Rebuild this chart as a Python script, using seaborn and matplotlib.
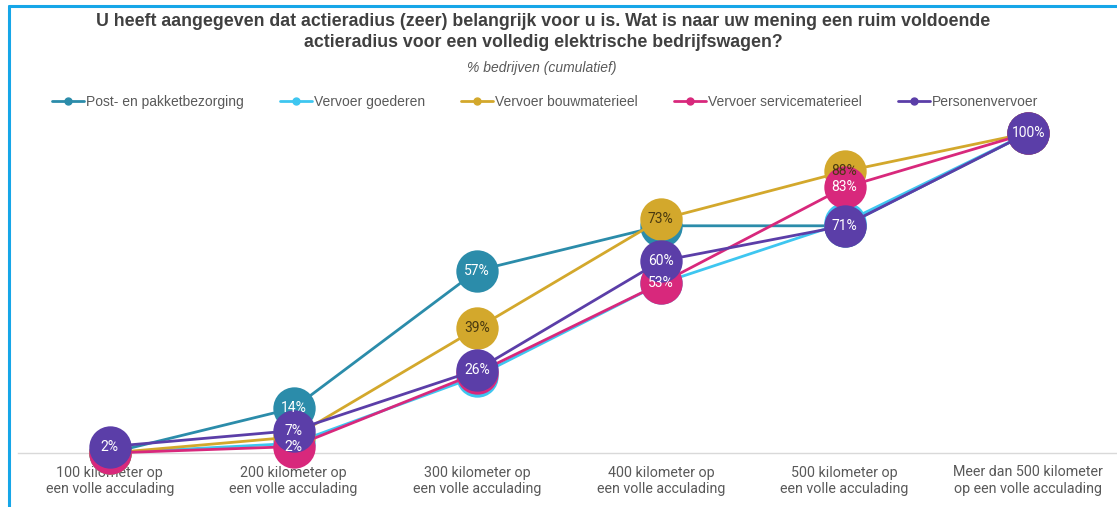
import matplotlib
matplotlib.use("Agg")
import matplotlib.pyplot as plt
import seaborn as sns
import pandas as pd
from matplotlib.lines import Line2D

categories = [
    "100 kilometer op\neen volle acculading",
    "200 kilometer op\neen volle acculading",
    "300 kilometer op\neen volle acculading",
    "400 kilometer op\neen volle acculading",
    "500 kilometer op\neen volle acculading",
    "Meer dan 500 kilometer\nop een volle acculading",
]
series_names = ["Post- en pakketbezorging", "Vervoer goederen", "Vervoer bouwmaterieel",
                "Vervoer servicematerieel", "Personenvervoer"]
post = [0, 14, 57, 71, 71, 100]
goederen = [0, 3, 24, 53, 72, 100]
bouw = [0, 5, 39, 73, 88, 100]
service = [0, 2, 25, 53, 83, 100]
personen = [2, 7, 26, 60, 71, 100]
values = [post, goederen, bouw, service, personen]
# which data labels are visible in the reference
shown = [
    [False, True, True, False, False, False],
    [False, False, False, False, False, False],
    [False, False, True, True, True, False],
    [False, True, False, True, True, False],
    [True, True, True, True, True, True],
]
colors = ["#2B8CAA", "#3EC6F0", "#D3A82C", "#D8287C", "#5B3EA8"]
label_colors = ["white", "white", "#4a3a10", "white", "white"]

rows = []
for name, vals in zip(series_names, values):
    for i, v in enumerate(vals):
        rows.append({"serie": name, "x": i, "pct": v})
df = pd.DataFrame(rows)

sns.set_theme(style="white")
plt.rcParams["font.family"] = ["Roboto", "DejaVu Sans"]

W, H = 1117, 507
fig = plt.figure(figsize=(W / 100, H / 100), dpi=100)
ax = fig.add_axes([18 / W, (H - 453) / H, 1102 / W, 320 / H])

sns.lineplot(data=df, x="x", y="pct", hue="serie", hue_order=series_names,
             palette=colors, marker="o", markersize=30.5, markeredgewidth=0,
             linewidth=2.0, ax=ax, legend=False, sort=False)
for ln in ax.lines:
    ln.set_clip_on(False)

for s, (vals, msk) in enumerate(zip(values, shown)):
    for i, (v, m) in enumerate(zip(vals, msk)):
        if m:
            ax.text(i, v, f"{v}%", ha="center", va="center", fontsize=10,
                    color=label_colors[s], zorder=10, family=["Roboto", "DejaVu Sans"])

ax.set_xlim(-0.5, 5.5)
ax.set_ylim(0, 100)
ax.set_xticks(range(len(categories)))
ax.set_xticklabels(categories, fontsize=10.3, color="#595959", linespacing=1.25)
ax.tick_params(axis="x", length=0, pad=9)
ax.set_yticks([])
ax.set_xlabel("")
ax.set_ylabel("")
for sp in ["top", "left", "right"]:
    ax.spines[sp].set_visible(False)
ax.spines["bottom"].set_color("#D9D9D9")
ax.spines["bottom"].set_linewidth(1.0)
ax.spines["bottom"].set_zorder(0)

fig.text(543 / W, 1 - 32 / H,
         "U heeft aangegeven dat actieradius (zeer) belangrijk voor u is. Wat is naar uw mening een ruim voldoende\nactieradius voor een volledig elektrische bedrijfswagen?",
         ha="center", va="center", fontsize=12.8, fontweight="bold", color="#404040",
         family=["Liberation Sans", "DejaVu Sans"], linespacing=1.3)
fig.text(542 / W, 1 - 68 / H, "% bedrijven (cumulatief)", ha="center", va="center",
         fontsize=10, style="italic", color="#595959",
         family=["Liberation Sans", "DejaVu Sans"])

handles = [Line2D([0], [0], color=c, lw=2, marker="o", markersize=5) for c in colors]
fig.legend(handles, series_names, loc="center", bbox_to_anchor=(545 / W, 1 - 102 / H),
           ncol=5, frameon=False, columnspacing=2.6, handlelength=2.3, handletextpad=0.15,
           prop={"family": ["Liberation Sans", "DejaVu Sans"], "size": 10},
           labelcolor="#595959")

# screenshot frame
fig.add_artist(Line2D([8.5 / W, 1.0], [1 - 6 / H, 1 - 6 / H], color="#16A6E8", lw=2.2,
                      transform=fig.transFigure))
fig.add_artist(Line2D([8.5 / W, 8.5 / W], [0, 1 - 6 / H], color="#16A6E8", lw=2.2,
                      transform=fig.transFigure))

fig.savefig("out.png", dpi=100)
